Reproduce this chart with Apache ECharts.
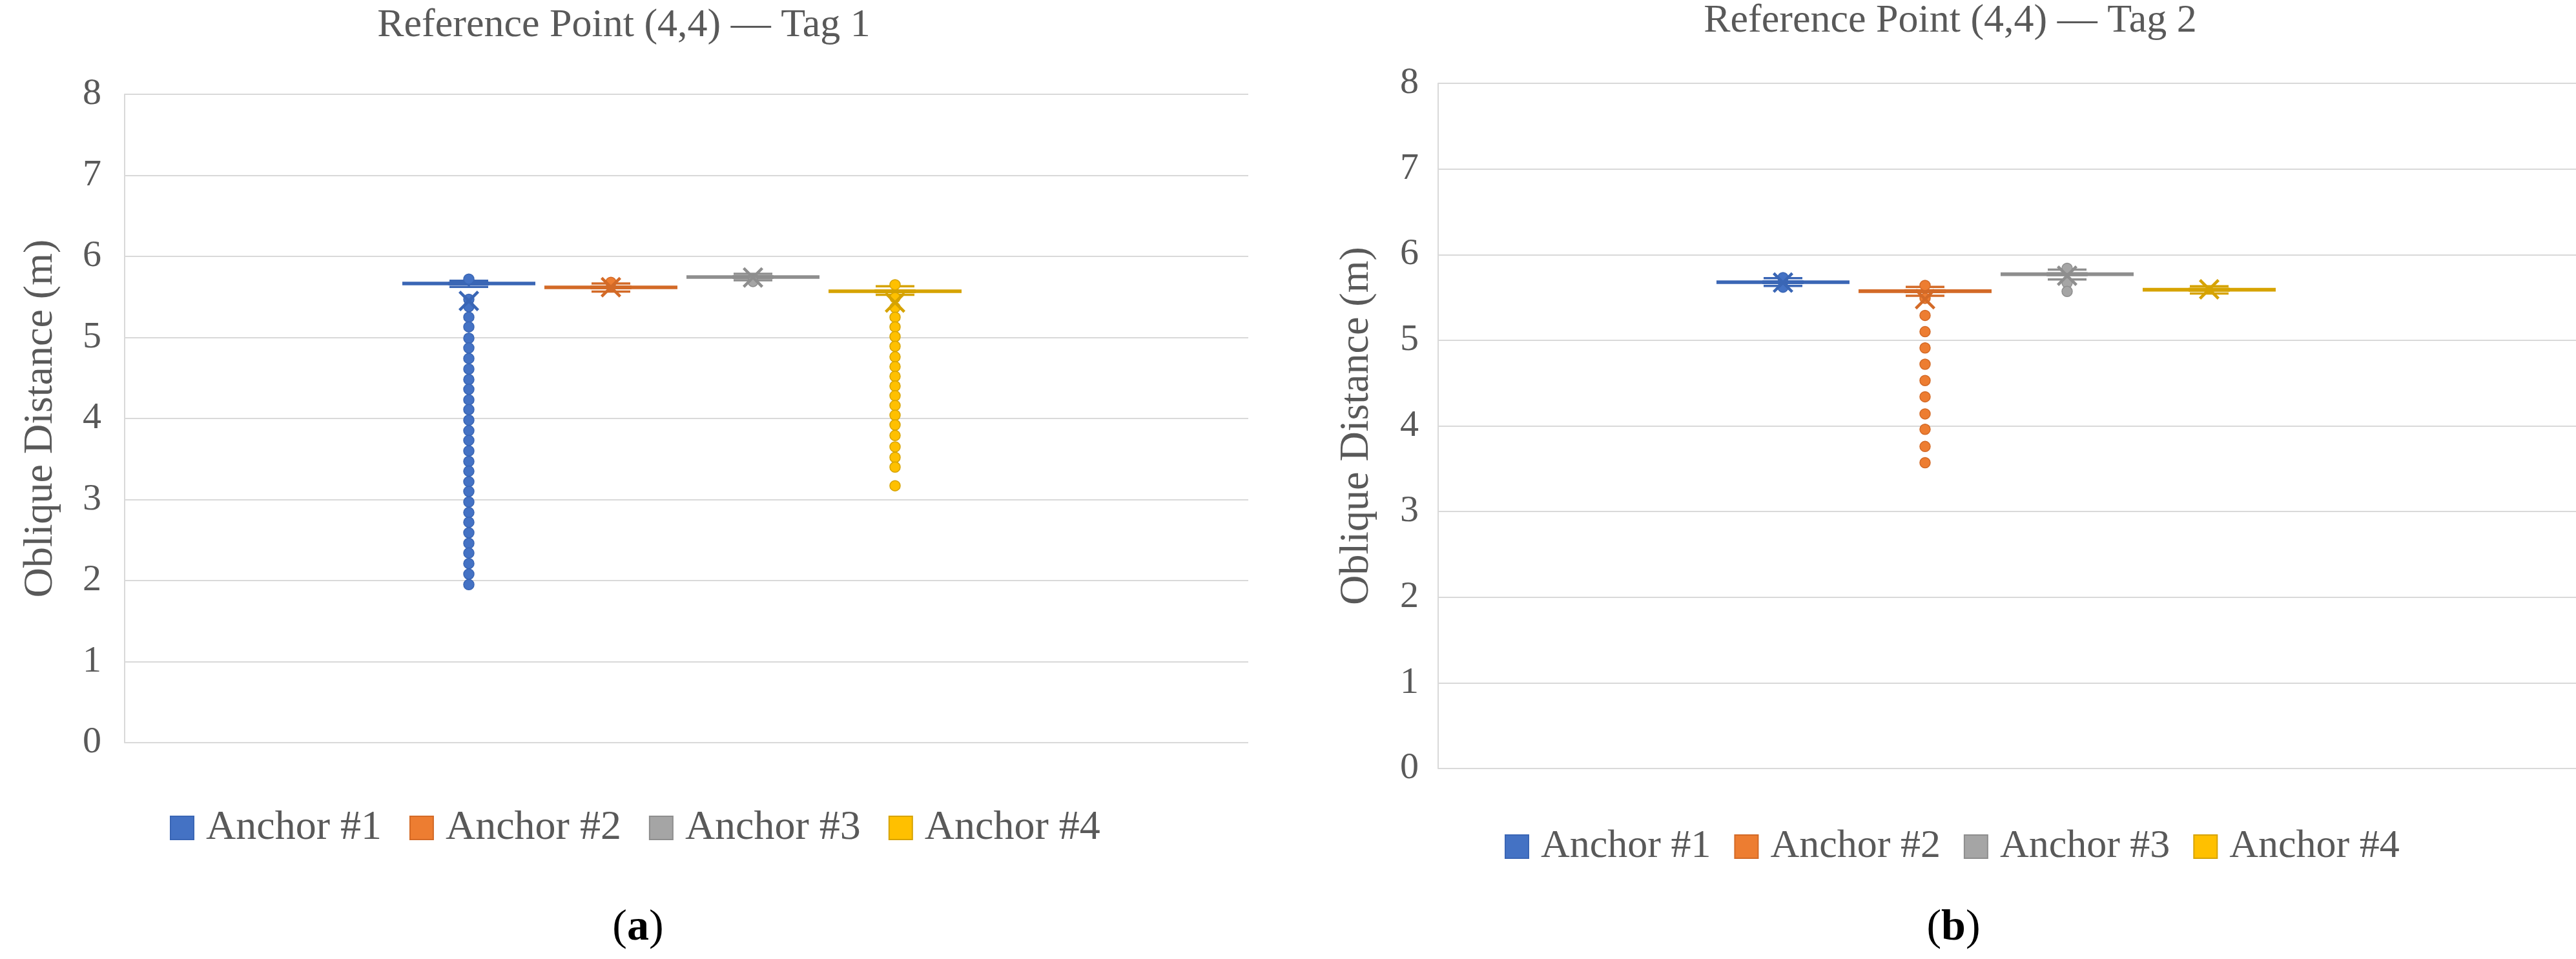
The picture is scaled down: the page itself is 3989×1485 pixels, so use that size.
<!DOCTYPE html>
<html>
<head>
<meta charset="utf-8">
<script src="https://cdn.jsdelivr.net/npm/echarts@6/dist/echarts.min.js"></script>
<style>
html,body{margin:0;padding:0;background:#fff;}
#chart{width:3989px;height:1485px;}
</style>
</head>
<body>
<div id="chart"></div>
<script>
// ---------- data ----------
const anchors = ['Anchor #1', 'Anchor #2', 'Anchor #3', 'Anchor #4'];
const yTicks = [0, 1, 2, 3, 4, 5, 6, 7, 8];

// Tag 1
const tag1Median = [5.665, 5.618, 5.745, 5.570];
const tag1Q1 = [5.655, 5.608, 5.735, 5.560];
const tag1Q3 = [5.675, 5.628, 5.755, 5.580];
const tag1WhiskerLow = [5.623, 5.565, 5.705, 5.525];
const tag1WhiskerHigh = [5.700, 5.665, 5.785, 5.632];
const tag1Mean = [5.45, 5.62, 5.74, 5.43];
const tag1Outliers1 = [5.72, 5.47, 5.38, 5.25, 5.13, 4.99, 4.87, 4.74, 4.61, 4.48, 4.36, 4.23, 4.11, 3.98, 3.85, 3.73, 3.60, 3.47, 3.35, 3.22, 3.10, 2.97, 2.84, 2.72, 2.59, 2.46, 2.34, 2.21, 2.08, 1.95];
const tag1Outliers2 = [5.68];
const tag1Outliers3 = [5.69];
const tag1Outliers4 = [5.65, 5.49, 5.37, 5.25, 5.13, 5.01, 4.89, 4.76, 4.64, 4.52, 4.40, 4.28, 4.16, 4.04, 3.92, 3.79, 3.65, 3.52, 3.40, 3.17];

// Tag 2
const tag2Median = [5.678, 5.573, 5.771, 5.590];
const tag2Q1 = [5.668, 5.563, 5.761, 5.580];
const tag2Q3 = [5.688, 5.583, 5.781, 5.600];
const tag2WhiskerLow = [5.635, 5.520, 5.709, 5.545];
const tag2WhiskerHigh = [5.725, 5.623, 5.824, 5.630];
const tag2Mean = [5.673, 5.48, 5.754, 5.595];
const tag2Outliers1 = [5.73, 5.62];
const tag2Outliers2 = [5.64, 5.49, 5.29, 5.10, 4.91, 4.72, 4.53, 4.34, 4.14, 3.96, 3.76, 3.57];
const tag2Outliers3 = [5.84, 5.67, 5.57];
const tag2Outliers4 = [];

// ---------- styles ----------
const fillColors = ['#4472C4', '#ED7D31', '#A5A5A5', '#FFC000'];
const lineColors = ['#3A66B5', '#D36A27', '#8E8E8E', '#D6A300'];
const FONT = '"Liberation Serif", "DejaVu Serif", serif';
const TXT = '#595959';
const GRIDC = '#D9D9D9';
const XPATH = 'path://M2,0 L10,8 L18,0 L20,2 L12,10 L20,18 L18,20 L10,12 L2,20 L0,18 L8,10 L0,2 Z';

const charts = [
  { title: 'Reference Point (4,4) \u2014 Tag 1', label: 'a',
    median: tag1Median, q1: tag1Q1, q3: tag1Q3, wl: tag1WhiskerLow, wh: tag1WhiskerHigh, mean: tag1Mean,
    outliers: [tag1Outliers1, tag1Outliers2, tag1Outliers3, tag1Outliers4],
    main: { left: 193, top: 146, width: 1740, height: 1004 },
    inner: { left: 616, width: 880 },
    titleX: 966, titleTop: 9, subX: 988, subTop: 1403,
    nameGap: 98, labelMargin: 36, legendLeft: 263, legendTop: 1250, legendFont: 64, legendGap: 43 },
  { title: 'Reference Point (4,4) \u2014 Tag 2', label: 'b',
    median: tag2Median, q1: tag2Q1, q3: tag2Q3, wl: tag2WhiskerLow, wh: tag2WhiskerHigh, mean: tag2Mean,
    outliers: [tag2Outliers1, tag2Outliers2, tag2Outliers3, tag2Outliers4],
    main: { left: 2227, top: 129, width: 1762, height: 1061 },
    inner: { left: 2651, width: 880 },
    titleX: 3020, titleTop: 2, subX: 3025, subTop: 1403,
    nameGap: 94, labelMargin: 30, legendLeft: 2330, legendTop: 1280, legendFont: 62, legendGap: 36 }
];

const option = {
  backgroundColor: '#ffffff',
  animation: false,
  title: [], legend: [], grid: [], xAxis: [], yAxis: [], series: []
};

charts.forEach(function (c, ci) {
  const gMain = option.grid.length;
  option.grid.push({ left: c.main.left, top: c.main.top, width: c.main.width, height: c.main.height, containLabel: false });
  const gIn = option.grid.length;
  option.grid.push({ left: c.inner.left, top: c.main.top, width: c.inner.width, height: c.main.height, containLabel: false });

  // main frame axes
  const xMain = option.xAxis.length;
  option.xAxis.push({ type: 'category', gridIndex: gMain, data: [''], show: false });
  const yMain = option.yAxis.length;
  option.yAxis.push({
    type: 'value', gridIndex: gMain, min: yTicks[0], max: yTicks[yTicks.length - 1], interval: 1,
    name: 'Oblique Distance (m)', nameLocation: 'middle', nameGap: c.nameGap,
    nameTextStyle: { fontFamily: FONT, fontSize: 64, color: TXT },
    axisLine: { show: true, lineStyle: { color: GRIDC, width: 2 } },
    axisTick: { show: false },
    axisLabel: { margin: c.labelMargin, fontFamily: FONT, fontSize: 58, color: TXT },
    splitLine: { show: true, lineStyle: { color: GRIDC, width: 2 } }
  });
  // inner axes (box placement)
  const xWide = option.xAxis.length;
  option.xAxis.push({ type: 'category', gridIndex: gIn, data: anchors, show: false });
  const xNarrow = option.xAxis.length;
  option.xAxis.push({ type: 'category', gridIndex: gIn, data: anchors, show: false });
  const yIn = option.yAxis.length;
  option.yAxis.push({ type: 'value', gridIndex: gIn, min: 0, max: 8, interval: 1, show: false, splitLine: { show: false } });

  // dummy series to keep main frame axes alive
  option.series.push({ type: 'line', xAxisIndex: xMain, yAxisIndex: yMain, data: [], silent: true });

  // wide (flattened) boxes
  option.series.push({
    type: 'boxplot', xAxisIndex: xWide, yAxisIndex: yIn, boxWidth: [203, 203], z: 2,
    data: anchors.map(function (a, i) {
      return { value: [c.q1[i], c.q1[i], c.median[i], c.q3[i], c.q3[i]],
        itemStyle: { color: lineColors[i], borderColor: lineColors[i], borderWidth: 3 } };
    })
  });
  // whiskers with short caps
  option.series.push({
    type: 'boxplot', xAxisIndex: xNarrow, yAxisIndex: yIn, boxWidth: [60, 60], z: 3,
    data: anchors.map(function (a, i) {
      return { value: [c.wl[i], c.q1[i], c.median[i], c.q3[i], c.wh[i]],
        itemStyle: { color: lineColors[i], borderColor: lineColors[i], borderWidth: 3.5 } };
    })
  });
  // outliers + mean per anchor
  anchors.forEach(function (a, i) {
    option.series.push({
      type: 'scatter', name: a, xAxisIndex: xWide, yAxisIndex: yIn, z: 4,
      symbol: 'circle', symbolSize: 16,
      itemStyle: { color: fillColors[i], borderColor: lineColors[i], borderWidth: 1.5, opacity: 1 },
      data: c.outliers[i].map(function (v) { return [a, v]; })
    });
    option.series.push({
      type: 'scatter', name: a, xAxisIndex: xWide, yAxisIndex: yIn, z: 5,
      symbol: XPATH, symbolSize: 32,
      itemStyle: { color: lineColors[i], opacity: 1 },
      data: [[a, c.mean[i]]]
    });
  });

  option.title.push({
    text: c.title, left: c.titleX, top: c.titleTop, textAlign: 'center', padding: 0,
    textStyle: { fontFamily: FONT, fontSize: 62, fontWeight: 'normal', color: TXT }
  });
  option.title.push({
    text: '{n|(}{b|' + c.label + '}{n|)}', left: c.subX, top: c.subTop, textAlign: 'center', padding: 0,
    textStyle: { fontWeight: 'normal', rich: {
      n: { fontFamily: FONT, fontSize: 68, fontWeight: 'normal', color: '#000' },
      b: { fontFamily: FONT, fontSize: 68, fontWeight: 'bold', color: '#000' }
    } }
  });
  option.legend.push({
    left: c.legendLeft, top: c.legendTop, orient: 'horizontal', padding: 0,
    itemWidth: 36, itemHeight: 36, itemGap: c.legendGap,
    textStyle: { fontFamily: FONT, fontSize: c.legendFont, color: TXT, padding: [0, 0, 0, 14] },
    data: anchors.map(function (a, i) {
      return { name: a, icon: 'rect', itemStyle: { color: fillColors[i], borderColor: lineColors[i], borderWidth: 2 } };
    })
  });
});

const chart = echarts.init(document.getElementById('chart'), null, { renderer: 'canvas' });
chart.setOption(option);
</script>
</body>
</html>
